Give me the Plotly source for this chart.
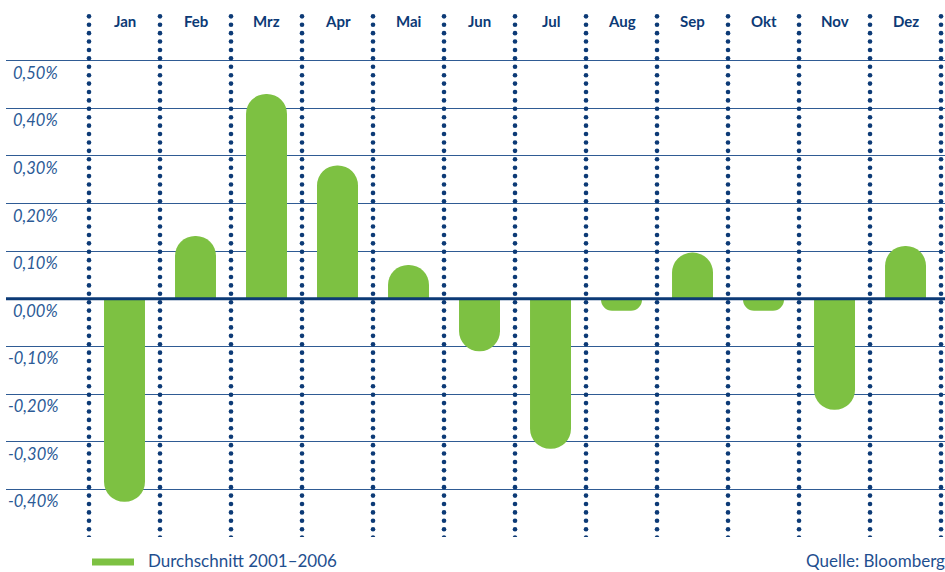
import numpy as np
import plotly.graph_objects as go

months = ["Jan", "Feb", "Mrz", "Apr", "Mai", "Jun", "Jul", "Aug", "Sep", "Okt", "Nov", "Dez"]
values = [-0.426, 0.132, 0.430, 0.280, 0.071, -0.110, -0.315, -0.025, 0.097, -0.025, -0.233, 0.111]
ytick_vals = [0.5, 0.4, 0.3, 0.2, 0.1, 0.0, -0.1, -0.2, -0.3, -0.4]
ytick_text = ["0,50%", "0,40%", "0,30%", "0,20%", "0,10%", "0,00%", "-0,10%", "-0,20%", "-0,30%", "-0,40%"]
series_name = "Durchschnitt 2001–2006"
source = "Quelle: Bloomberg"

GREEN = "#7dc142"
NAVY = "#0c3a76"
GRID = "#2f5b94"
LABEL = "#2b5a96"
FONT = "Lato"

x = list(range(len(months)))

fig = go.Figure()

# dotted month dividers
dot_y = np.arange(0.593, -0.505, -0.01765)
dx, dy = [], []
for i in range(len(months) + 1):
    dx += [i - 0.5] * len(dot_y) + [None]
    dy += list(dot_y) + [None]
fig.add_trace(go.Scatter(x=dx, y=dy, mode="markers",
                         marker=dict(size=4.6, color=NAVY, line=dict(width=0)),
                         hoverinfo="skip", showlegend=False))

fig.add_trace(go.Bar(x=x, y=values, width=0.577, marker=dict(color=GREEN, line=dict(width=0)),
                     name=series_name, showlegend=False))

fig.update_layout(
    width=945, height=572,
    margin=dict(l=6, r=0, t=13, b=35),
    paper_bgcolor="white", plot_bgcolor="white",
    barcornerradius="50%",
    font=dict(family=FONT, color=LABEL),
    xaxis=dict(range=[-1.669, 11.556], showgrid=False, zeroline=False,
               showticklabels=False, ticks="", fixedrange=True),
    yaxis=dict(range=[-0.5, 0.6], tickvals=[0.5, 0.4, 0.3, 0.2, 0.1, 0.0, -0.1, -0.2, -0.3, -0.4, -0.5],
               showgrid=True, gridcolor=GRID, gridwidth=1.3, zeroline=False,
               showticklabels=False, ticks="", fixedrange=True),
)

# zero line above bars
fig.add_shape(type="line", xref="paper", yref="y", x0=0, x1=1, y0=0, y1=0,
              line=dict(color=NAVY, width=3), layer="above")

# month labels
for i, m in enumerate(months):
    fig.add_annotation(x=i, y=0.584, xref="x", yref="y", text=m, showarrow=False,
                       font=dict(family=FONT, size=15, color=NAVY, weight="bold"),
                       xanchor="center", yanchor="middle")

# y labels
for v, t in zip(ytick_vals, ytick_text):
    fig.add_annotation(x=0.0575, y=v, xref="paper", yref="y", text=t, showarrow=False,
                       font=dict(family=FONT, size=16.5, color=LABEL, style="italic"),
                       xanchor="right", yanchor="middle", yshift=-12)

# legend swatch and text
fig.add_shape(type="line", xref="paper", yref="paper", x0=(92 - 6) / 939, x1=(134 - 6) / 939,
              y0=-25 / 524, y1=-25 / 524, line=dict(color=GREEN, width=7))
fig.add_annotation(x=(146 - 6) / 939, y=-23 / 524, xref="paper", yref="paper", text=series_name,
                   showarrow=False, xanchor="left", yanchor="middle",
                   font=dict(family=FONT, size=17, color="#1f4f8f"))
fig.add_annotation(x=1, y=-23 / 524, xref="paper", yref="paper", text=source,
                   showarrow=False, xanchor="right", yanchor="middle", xshift=2,
                   font=dict(family=FONT, size=17, color="#1f4f8f"))

fig.write_html("out.html", config={"displayModeBar": False},
               post_script="document.body.style.margin='0px';")
